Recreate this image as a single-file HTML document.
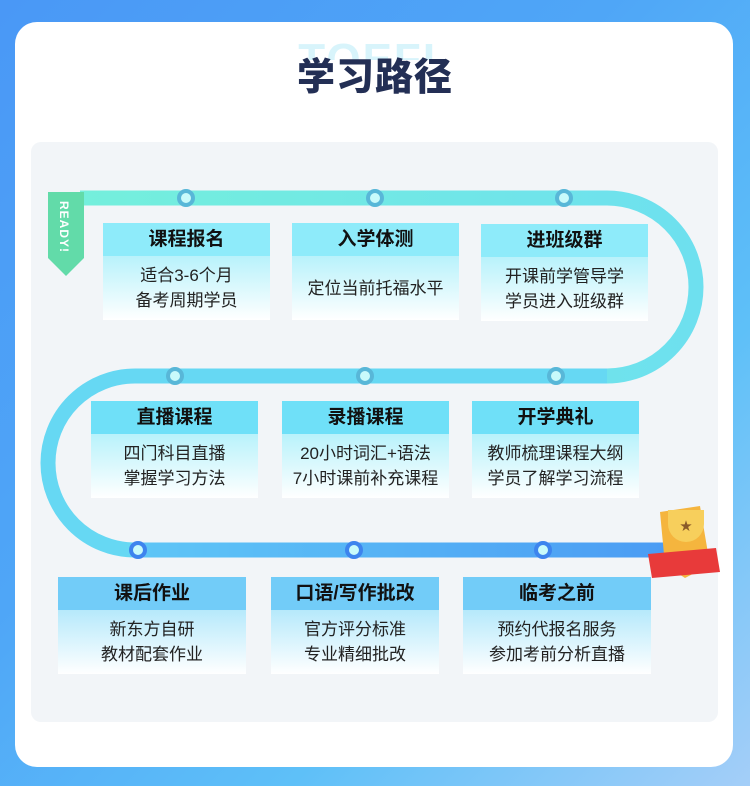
<!DOCTYPE html>
<html><head><meta charset="utf-8"><style>
*{margin:0;padding:0;box-sizing:border-box}
body{width:750px;height:786px;overflow:hidden;background:linear-gradient(135deg,#4a98f6 0%,#4fa6f7 40%,#5ec0f8 70%,#a4cef8 100%);position:relative;font-family:"Liberation Sans","Noto Sans CJK SC",sans-serif}
.card{position:absolute;left:15px;top:22px;width:718px;height:745px;background:#fff;border-radius:22px}
.panel{position:absolute;left:31px;top:142px;width:687px;height:580px;background:#f2f5f8;border-radius:10px}
.wm{position:absolute;left:0;width:750px;top:30px;text-align:center;font-size:44px;font-weight:bold;color:#d8f4fb;letter-spacing:2px;height:30px;overflow:hidden;line-height:60px}
.title{position:absolute;left:0;width:750px;top:46px;text-align:center;font-size:38px;font-weight:900;color:#232f55;letter-spacing:1px}
.box{position:absolute;height:97px}
.box .h{height:33px;line-height:33px;text-align:center;font-size:19px;font-weight:bold;color:#111}
.box .b{height:64px;display:flex;align-items:center;justify-content:center;text-align:center;font-size:17px;line-height:25px;color:#222;background:linear-gradient(#b8f2fb,#fff)}
.r1 .h{background:#8eebfa}.r2 .h{background:#6fe0f8}.r3 .h{background:#72ccf8}
.r3 .b{background:linear-gradient(#b6e9fb,#fff)}
</style></head><body>
<div class="card"></div>
<div class="panel"></div>
<div class="wm">TOEFL</div>
<div class="title">学习路径</div>
<svg style="position:absolute;left:0;top:0" width="750" height="786">
<defs>
<linearGradient id="g1" gradientUnits="userSpaceOnUse" x1="80" y1="0" x2="700" y2="0"><stop offset="0" stop-color="#74efdc"/><stop offset="1" stop-color="#6ee0ef"/></linearGradient>
<linearGradient id="g3" gradientUnits="userSpaceOnUse" x1="135" y1="0" x2="665" y2="0"><stop offset="0" stop-color="#5fc6f6"/><stop offset="1" stop-color="#4b9cf4"/></linearGradient>
</defs>
<path d="M80 198 H607 A89 89 0 0 1 607 376" fill="none" stroke="url(#g1)" stroke-width="15"/>
<path d="M607 376 H135 A87 87 0 0 0 135 550" fill="none" stroke="#66d8f3" stroke-width="15"/>
<path d="M135 550 H665" fill="none" stroke="url(#g3)" stroke-width="15"/>
<g fill="#c8fafb" stroke="#58b7d8" stroke-width="4">
<circle cx="186" cy="198" r="7"/><circle cx="375" cy="198" r="7"/><circle cx="564" cy="198" r="7"/>
<circle cx="175" cy="376" r="7"/><circle cx="365" cy="376" r="7"/><circle cx="556" cy="376" r="7"/>
</g>
<g fill="#c8fafb" stroke="#3d84ee" stroke-width="4">
<circle cx="138" cy="550" r="7"/><circle cx="354" cy="550" r="7"/><circle cx="543" cy="550" r="7"/>
</g>
<path d="M48 192 H84 V258 L66 276 L48 258 Z" fill="#62dba9"/>
<text x="0" y="0" transform="translate(60,201) rotate(90)" fill="#fff" font-size="12" font-weight="bold" font-family="Liberation Sans" letter-spacing="1">READY!</text>
<path d="M660 512 L700 506 L710 565 L685 578 L665 565 Z" fill="#f5b53e"/>
<path d="M668 510 h36 v14 a18 18 0 0 1 -36 0z" fill="#f7cf5c"/>
<text x="680" y="530" font-size="12" fill="#8a5a2a">★</text>
<path d="M648 554 L716 548 L720 572 L652 578 Z" fill="#e83a3a"/>
</svg>
<div class="box r1" style="left:103px;top:223px;width:167px"><div class="h">课程报名</div><div class="b">适合3-6个月<br>备考周期学员</div></div>
<div class="box r1" style="left:292px;top:223px;width:167px"><div class="h">入学体测</div><div class="b">定位当前托福水平</div></div>
<div class="box r1" style="left:481px;top:224px;width:167px"><div class="h">进班级群</div><div class="b">开课前学管导学<br>学员进入班级群</div></div>
<div class="box r2" style="left:91px;top:401px;width:167px"><div class="h">直播课程</div><div class="b">四门科目直播<br>掌握学习方法</div></div>
<div class="box r2" style="left:282px;top:401px;width:167px"><div class="h">录播课程</div><div class="b">20小时词汇+语法<br>7小时课前补充课程</div></div>
<div class="box r2" style="left:472px;top:401px;width:167px"><div class="h">开学典礼</div><div class="b">教师梳理课程大纲<br>学员了解学习流程</div></div>
<div class="box r3" style="left:58px;top:577px;width:188px"><div class="h">课后作业</div><div class="b">新东方自研<br>教材配套作业</div></div>
<div class="box r3" style="left:271px;top:577px;width:168px"><div class="h">口语/写作批改</div><div class="b">官方评分标准<br>专业精细批改</div></div>
<div class="box r3" style="left:463px;top:577px;width:188px"><div class="h">临考之前</div><div class="b">预约代报名服务<br>参加考前分析直播</div></div>
</body></html>
